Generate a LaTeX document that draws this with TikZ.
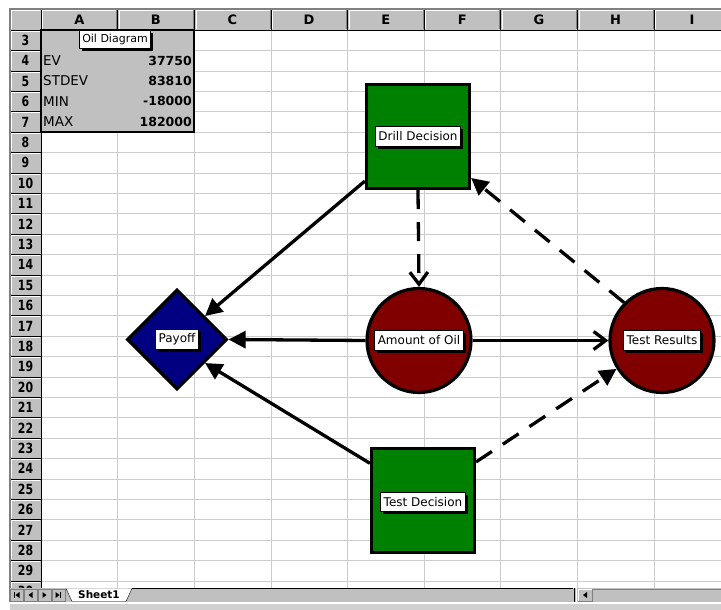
\documentclass[tikz,border=0pt]{standalone}
\usepackage{fontspec}
\setmainfont{DejaVu Sans}
\usetikzlibrary{shapes.geometric,arrows.meta,shadows}
\definecolor{cellgray}{HTML}{C0C0C0}
\definecolor{gridgray}{HTML}{CCCCCC}
\definecolor{edgegray}{HTML}{808080}
\definecolor{decgreen}{HTML}{008000}
\definecolor{chancered}{HTML}{800000}
\definecolor{payblue}{HTML}{000080}
\tikzset{
  tag/.style={draw=black, fill=white, line width=0.8pt, inner xsep=3pt, inner ysep=0pt,
    minimum height=19.5pt, font=\fontsize{12}{14}\selectfont,
    drop shadow={shadow xshift=2.5pt, shadow yshift=-2.5pt, fill=black, opacity=1}},
  decision/.style={rectangle, draw=black, line width=3.2pt, fill=decgreen,
    minimum width=103pt, minimum height=104pt},
  chance/.style={circle, draw=black, line width=3.2pt, fill=chancered,
    minimum size=104pt, inner sep=0pt},
  payout/.style={diamond, draw=black, line width=3.2pt, fill=payblue,
    minimum width=100pt, minimum height=100pt, inner sep=0pt},
  infl/.style={line width=3.3pt, -{Triangle[length=17pt,width=17pt]}},
  infldash/.style={infl, dash pattern=on 19pt off 13pt},
  inflopen/.style={line width=3.3pt, -{Straight Barb[length=12pt,width=18pt]}},
  colhead/.style={font=\bfseries\fontsize{13}{15}\selectfont, inner sep=0pt},
  rowhead/.style={font=\bfseries\fontsize{14}{16}\selectfont, inner sep=0pt},
  cellL/.style={anchor=west, inner sep=0pt, font=\fontsize{13.5}{15}\selectfont},
  cellR/.style={anchor=east, inner sep=0pt, font=\bfseries\fontsize{12.5}{14}\selectfont},
}

\begin{document}
\begin{tikzpicture}[x=1pt,y=-1pt]
    \useasboundingbox[fill=white] (0,0) rectangle (721,610);
    % sheet grid
    \foreach \c in {0,...,9}
        \draw[gridgray] ({41+76.6*\c},30) -- ({41+76.6*\c},588);
    \foreach \r in {0,...,28}
        \draw[gridgray] (41,{30+20.4*\r}) -- (721,{30+20.4*\r});
    % column headers
    \fill[cellgray] (10,9) rectangle (721,30);
    \draw[white] (11,29) -- (11,10) -- (40,10);
    \foreach \l [count=\i from 0] in {A,...,I} {
        \draw[white] ({41+76.6*\i+1.5},29) -- ({41+76.6*\i+1.5},10.5) -- ({41+76.6*(\i+1)-1},10.5);
        \draw[edgegray] ({41+76.6*(\i+1)-1},10.5) -- ({41+76.6*(\i+1)-1},29);
        \draw[black] ({41+76.6*\i},9) -- ({41+76.6*\i},30);
        \node[colhead] (col\l) at ({41+76.6*(\i+0.5)},20) {\l};
    }
    % row headers
    \fill[cellgray] (10,30) rectangle (41,588);
    \foreach \r in {3,...,30} {
        \draw[white] (11,{30+20.4*(\r-3)+19.4}) -- (11,{30+20.4*(\r-3)+1}) -- (40,{30+20.4*(\r-3)+1});
        \draw[black] (10,{30+20.4*(\r-2)}) -- (41,{30+20.4*(\r-2)});
        \node[rowhead] (row\r) at (25.5,{30+20.4*(\r-3)+10.4}) {\scalebox{0.78}[1]{\r}};
    }
    \draw[black] (41,30) -- (41,588);
    \draw[black] (10,30) -- (721,30);
    \draw[edgegray, line width=1.2pt] (10,602) -- (10,9) -- (721,9);
    % summary block
    \fill[cellgray] (41,30) rectangle (194.2,132);
    \draw[line width=2.5pt] (41,30) rectangle (194.2,132);
    \node[cellL] (evlab) at (43,60.6) {EV};
    \node[cellL] (sdlab) at (43,81) {STDEV};
    \node[cellL] (minlab) at (43,101.4) {MIN};
    \node[cellL] (maxlab) at (43,121.8) {MAX};
    \node[cellR] (evval) at (192,60.6) {37750};
    \node[cellR] (sdval) at (192,81) {83810};
    \node[cellR] (minval) at (192,101.4) {-18000};
    \node[cellR] (maxval) at (192,121.8) {182000};
    \node[tag, font=\fontsize{11}{13}\selectfont, minimum height=18pt] (title) at (115,39.5) {Oil Diagram};
    % influence diagram
    \node[decision] (drill) at (418,136.5) {};
    \node[payout] (payoff) at (177,339.5) {};
    \node[chance] (oil) at (419,340.5) {};
    \node[chance] (results) at (662,340.5) {};
    \node[decision] (test) at (423,500.5) {};
    \draw[infl] (drill.220) -- (payoff.40);
    \draw[infl] (oil.west) -- (payoff.east);
    \draw[infl] (test.145) -- (payoff.-40);
    \draw[inflopen] (oil.east) -- (results.west);
    \draw[inflopen, dash pattern=on 19pt off 13pt] (drill.south) -- (oil.north);
    \draw[infldash] (results.135) -- (drill.-38);
    \draw[infldash] (test.36) -- (results.212);
    \node[tag] (drilltag) at (drill) {Drill Decision};
    \node[tag] (payofftag) at (payoff) {Payoff};
    \node[tag] (oiltag) at (oil) {Amount of Oil};
    \node[tag] (resultstag) at (results) {Test Results};
    \node[tag] (testtag) at ([yshift=-1.5pt]test.center) {Test Decision};
    % sheet tabs and scroll bar
    \fill[cellgray] (10,588) rectangle (721,602);
    \draw[black] (132,588.5) -- (573,588.5);
    \foreach \bx in {10,24,38,52}
        \draw[edgegray, fill=cellgray] (\bx,589) rectangle ({\bx+13},601);
    \fill[black] (15.5,595) -- (19.5,592) -- (19.5,598) -- cycle;
    \draw[black] (14.5,592) -- (14.5,598);
    \fill[black] (28.5,595) -- (32.5,592) -- (32.5,598) -- cycle;
    \fill[black] (46.5,595) -- (42.5,592) -- (42.5,598) -- cycle;
    \fill[black] (59.5,595) -- (55.5,592) -- (55.5,598) -- cycle;
    \draw[black] (60.5,592) -- (60.5,598);
    \filldraw[fill=white, draw=black] (66,588.5) -- (72,601.5) -- (126,601.5) -- (132,588.5);
    \node[font=\bfseries\fontsize{10.5}{12}\selectfont, inner sep=0pt] (sheettab) at (99,595) {Sheet1};
    \draw[black, line width=1pt] (574,588) -- (574,602);
    \draw[white] (576,588) -- (576,602);
    \draw[edgegray, fill=cellgray] (578,589) rectangle (592,601);
    \draw[white] (578.5,600.5) -- (578.5,589.5) -- (591.5,589.5);
    \fill[black] (583,595) -- (587,592) -- (587,598) -- cycle;
    \draw[edgegray] (592,589) -- (721,589);
    \fill[white] (10,602) rectangle (721,603.5);
    \fill[cellgray!75] (10,603.5) rectangle (721,610);
\end{tikzpicture}
\end{document}
